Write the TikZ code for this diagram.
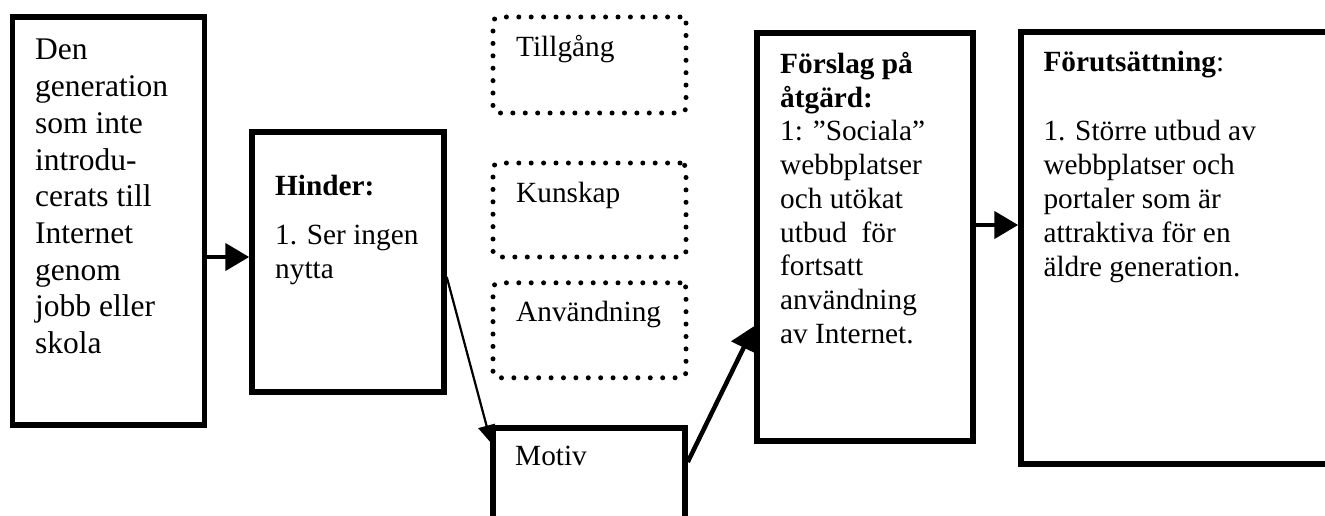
\documentclass[tikz,border=0pt]{standalone}
\usepackage{fontspec}
\setmainfont{Liberation Serif}
\usetikzlibrary{arrows.meta}
% left-aligned stack of lines whose baseline is the first line
\newcommand\linestack[1]{\begin{tabular}[t]{@{}l@{}}#1\end{tabular}}

\begin{document}
\begin{tikzpicture}[x=1pt,y=-1pt,
  solidbox/.style={draw, line width=5.5pt, inner sep=0pt},
  dotbox/.style={draw, line width=5pt, line cap=round,
    dash pattern=on 0pt off 12.4pt, rounded corners=6pt, inner sep=0pt},
  txt/.style={anchor=base west, inner sep=0pt,
    font={\fontsize{29.3}{34.2}\selectfont}},
  bigtxt/.style={anchor=base west, inner sep=0pt,
    font={\fontsize{31.5}{36.7}\selectfont}},
  thickarrow/.style={line width=4.5pt,
    -{Triangle[length=24pt,width=27pt]}},
  thinarrow/.style={line width=2.2pt,
    -{Triangle[length=18pt,width=17pt]}}
]
\useasboundingbox (0,0) rectangle (1325,516);
\fill[white] (0,0) rectangle (1325,516);
\clip (0,0) rectangle (1325,516);

% solid boxes
\node[solidbox, minimum width=192pt, minimum height=408pt] (gen)    at (108.5,221) {};
\node[solidbox, minimum width=192pt, minimum height=260pt] (hinder) at (348,262) {};
\node[solidbox, minimum width=192pt, minimum height=132pt] (motiv)  at (589,494) {};
\node[solidbox, minimum width=216pt, minimum height=408pt] (forslag) at (865,237) {};
\node[solidbox, minimum width=324pt, minimum height=432pt] (forut)  at (1183,248) {};

% dotted boxes
\node[dotbox, minimum width=193pt, minimum height=96pt] (tillgang)   at (589.5,65) {};
\node[dotbox, minimum width=193pt, minimum height=94pt] (kunskap)    at (589.5,210) {};
\node[dotbox, minimum width=193pt, minimum height=95pt] (anvandning) at (589.5,330.3) {};

% texts
\node[bigtxt] (gentext) at (35,60) {\linestack{Den\\generation\\som inte\\introdu-\\cerats till\\Internet\\genom\\jobb eller\\skola}};
\node[txt] (hindertext) at (275,195.5) {\linestack{\textbf{Hinder:}\\[15pt]1. Ser ingen\\nytta}};
\node[txt] (tillgangtext) at (516,57) {Tillgång};
\node[txt] (kunskaptext) at (516,202) {Kunskap};
\node[txt] (anvandningtext) at (516,321.7) {Användning};
\node[txt] (motivtext) at (515,465) {Motiv};
\node[txt, font={\fontsize{29.3}{33.75}\selectfont}] (forslagtext) at (780,73.3)
  {\linestack{\textbf{Förslag på}\\\textbf{åtgärd:}\\1: ”Sociala”\\webbplatser\\och utökat\\utbud\ \ för\\fortsatt\\användning\\av Internet.}};
\node[txt] (foruttext) at (1043.3,71.7)
  {\linestack{\textbf{Förutsättning}:\\[34.2pt]1. Större utbud av\\webbplatser och\\portaler som är\\attraktiva för en\\äldre generation.}};

% connectors
\draw[thickarrow] (gen.east |- 0,257) -- (hinder.west |- 0,257);
\draw[thinarrow] (hinder.east |- 0,277) -- ([shift={(1,18)}]motiv.north west);
\draw[thickarrow] (motiv.east |- 0,462) -- (forslag.west |- 0,326);
\draw[thickarrow] (forslag.east |- 0,225) -- (forut.west |- 0,225);
\end{tikzpicture}
\end{document}
